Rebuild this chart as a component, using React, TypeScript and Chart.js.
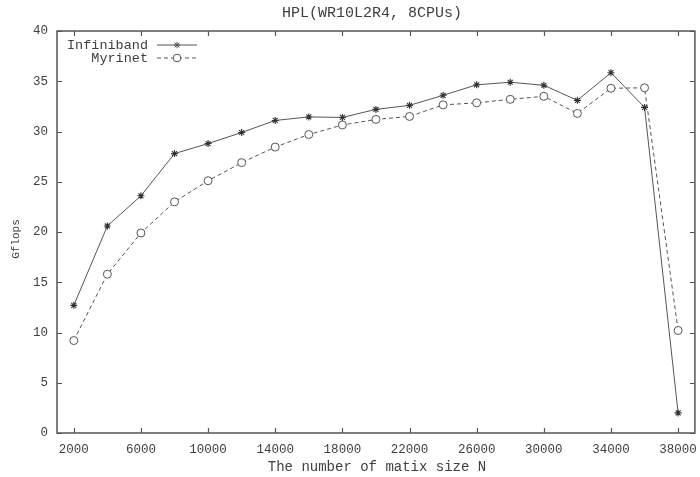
import React, { useEffect, useRef } from "react";
import { Chart, registerables } from "chart.js";

Chart.register(...registerables);

const matrixSizes = [2000, 4000, 6000, 8000, 10000, 12000, 14000, 16000, 18000, 20000, 22000, 24000, 26000, 28000, 30000, 32000, 34000, 36000, 38000];
const infiniband = [12.7, 20.6, 23.6, 27.8, 28.8, 29.9, 31.1, 31.45, 31.4, 32.2, 32.6, 33.6, 34.65, 34.9, 34.6, 33.1, 35.85, 32.4, 2.0];
const myrinet = [9.2, 15.8, 19.9, 23.0, 25.1, 26.9, 28.45, 29.7, 30.65, 31.2, 31.5, 32.65, 32.85, 33.2, 33.5, 31.8, 34.3, 34.35, 10.2];
const xTickValues = [2000, 6000, 10000, 14000, 18000, 22000, 26000, 30000, 34000, 38000];
const chartTitle = "HPL(WR10L2R4, 8CPUs)";
const xTitle = "The number of matix size N";
const yTitle = "Gflops";
const seriesNames = ["Infiniband", "Myrinet"];

const MONO = "'Liberation Mono', 'DejaVu Sans Mono', monospace";
const LINE = "#555555";
const TEXT = "#3f3f3f";

function drawStar(ctx: CanvasRenderingContext2D, x: number, y: number, r: number) {
  ctx.beginPath();
  ctx.moveTo(x - r, y); ctx.lineTo(x + r, y);
  ctx.moveTo(x, y - r); ctx.lineTo(x, y + r);
  const d = r * 0.75;
  ctx.moveTo(x - d, y - d); ctx.lineTo(x + d, y + d);
  ctx.moveTo(x - d, y + d); ctx.lineTo(x + d, y - d);
  ctx.stroke();
}

const framePlugin = {
  id: "frame",
  afterDraw(chart: any) {
    const ctx: CanvasRenderingContext2D = chart.ctx;
    const { left, right, top, bottom } = chart.chartArea;
    const xs = chart.scales.x;
    const ys = chart.scales.y;
    ctx.save();
    ctx.strokeStyle = LINE;
    ctx.lineWidth = 1.5;
    ctx.setLineDash([]);
    ctx.strokeRect(left, top, right - left, bottom - top);
    ctx.lineWidth = 1.2;
    const tl = 5;
    ctx.beginPath();
    xs.ticks.forEach((t: any) => {
      const px = Math.round(xs.getPixelForValue(t.value)) + 0.5;
      ctx.moveTo(px, bottom); ctx.lineTo(px, bottom - tl);
      ctx.moveTo(px, top); ctx.lineTo(px, top + tl);
    });
    ys.ticks.forEach((t: any) => {
      const py = Math.round(ys.getPixelForValue(t.value)) + 0.5;
      ctx.moveTo(left, py); ctx.lineTo(left + tl, py);
      ctx.moveTo(right, py); ctx.lineTo(right - tl, py);
    });
    ctx.stroke();

    // titles
    ctx.fillStyle = TEXT;
    ctx.textAlign = "center";
    ctx.textBaseline = "middle";
    ctx.font = `15px ${MONO}`;
    ctx.fillText(chartTitle, 372, 13);
    ctx.font = `14px ${MONO}`;
    ctx.fillText(xTitle, 377, 467);
    ctx.save();
    ctx.translate(16, 239);
    ctx.rotate(-Math.PI / 2);
    ctx.font = `11px ${MONO}`;
    ctx.fillText(yTitle, 0, 0);
    ctx.restore();

    // legend
    ctx.font = `13.5px ${MONO}`;
    ctx.textAlign = "right";
    const ly = [45, 58];
    const lx0 = 157, lx1 = 197, tx = 148;
    ctx.fillText(seriesNames[0], tx, ly[0]);
    ctx.fillText(seriesNames[1], tx, ly[1]);
    ctx.lineWidth = 1;
    ctx.strokeStyle = LINE;
    ctx.beginPath();
    ctx.moveTo(lx0, ly[0]); ctx.lineTo(lx1, ly[0]);
    ctx.stroke();
    drawStar(ctx, (lx0 + lx1) / 2, ly[0], 3.2);
    ctx.setLineDash([4, 3]);
    ctx.beginPath();
    ctx.moveTo(lx0, ly[1]); ctx.lineTo(lx1, ly[1]);
    ctx.stroke();
    ctx.setLineDash([]);
    ctx.fillStyle = "#ffffff";
    ctx.beginPath();
    ctx.arc((lx0 + lx1) / 2, ly[1], 3.8, 0, Math.PI * 2);
    ctx.fill();
    ctx.stroke();
    ctx.restore();
  },
};

export default function App() {
  const ref = useRef<HTMLCanvasElement | null>(null);
  useEffect(() => {
    if (!ref.current) return;
    const chart = new Chart(ref.current, {
      type: "line",
      data: {
        datasets: [
          {
            label: seriesNames[0],
            data: matrixSizes.map((x, i) => ({ x, y: infiniband[i] })),
            borderColor: LINE,
            borderWidth: 1,
            pointStyle: "star",
            pointRadius: 3.5,
            pointBorderWidth: 1.1,
            pointBorderColor: "#333",
            pointBackgroundColor: "#333",
            tension: 0,
          },
          {
            label: seriesNames[1],
            data: matrixSizes.map((x, i) => ({ x, y: myrinet[i] })),
            borderColor: LINE,
            borderWidth: 1,
            borderDash: [4, 3],
            pointStyle: "circle",
            pointRadius: 4,
            pointBorderWidth: 1,
            pointBorderColor: LINE,
            pointBackgroundColor: "#ffffff",
            tension: 0,
          },
        ],
      },
      options: {
        animation: false,
        responsive: false,
        devicePixelRatio: 1,
        layout: { padding: { top: 31, right: 5, left: 0, bottom: 0 } },
        plugins: { legend: { display: false }, title: { display: false }, tooltip: { enabled: false } },
        scales: {
          x: {
            type: "linear",
            min: 1000,
            max: 39000,
            grid: { display: false, drawTicks: false },
            border: { display: false },
            afterBuildTicks: (s: any) => { s.ticks = xTickValues.map((v) => ({ value: v })); },
            afterFit: (s: any) => { s.height = 44; s.paddingRight = 0; s.paddingLeft = 0; },
            ticks: {
              padding: 9,
              color: TEXT,
              font: { family: MONO, size: 12.5 },
              maxRotation: 0,
              autoSkip: false,
              callback: (v: any) => String(v),
            },
          },
          y: {
            min: 0,
            max: 40,
            grid: { display: false, drawTicks: false },
            border: { display: false },
            afterFit: (s: any) => { s.width = 57; s.paddingTop = 0; s.paddingBottom = 0; },
            ticks: {
              stepSize: 5,
              padding: 9,
              color: TEXT,
              font: { family: MONO, size: 12.5 },
              callback: (v: any) => String(v),
            },
          },
        },
      },
      plugins: [framePlugin],
    });
    return () => chart.destroy();
  }, []);
  return (
    <div style={{ position: "fixed", left: 0, top: 0, width: 700, height: 477, background: "#fff" }}>
      <canvas ref={ref} width={700} height={477} style={{ display: "block" }} />
    </div>
  );
}
